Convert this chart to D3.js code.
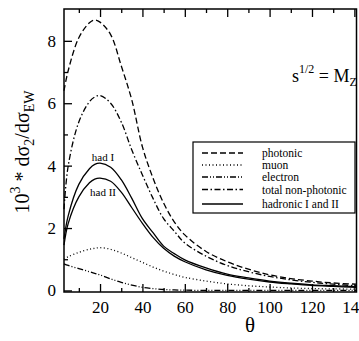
<!DOCTYPE html>
<html>
<head>
<meta charset="utf-8">
<script src="https://cdn.jsdelivr.net/npm/d3@7"></script>
<style>
  body { margin: 0; background: #fff; }
  svg text { font-family: "Liberation Serif", Tinos, "Times New Roman", serif; fill: #000; }
</style>
</head>
<body>
<svg width="359" height="341"></svg>
<script>
  // angle values (degrees)
  const theta = [3, 5, 10, 15, 17.5, 20, 25, 30, 35, 40, 45, 50, 55, 60, 70, 80, 90, 100, 110, 120, 130, 141];

  // 10^3 * dsigma2/dsigmaEW per channel
  const photonic    = [6.4, 7.05, 8.1, 8.58, 8.67, 8.6, 8.2, 7.2, 6.1, 4.6, 3.6, 2.8, 2.2, 1.78, 1.25, 0.92, 0.68, 0.5, 0.38, 0.3, 0.24, 0.2];
  const muon        = [1.0, 1.08, 1.22, 1.32, 1.35, 1.37, 1.32, 1.2, 1.05, 0.9, 0.75, 0.62, 0.51, 0.42, 0.3, 0.21, 0.15, 0.11, 0.08, 0.06, 0.05, 0.04];
  const electron    = [0.85, 0.8, 0.7, 0.6, 0.55, 0.5, 0.37, 0.26, 0.17, 0.1, 0.06, 0.03, 0.015, 0.01, 0, 0, 0, 0, 0, 0, 0, 0];
  const nonPhotonic = [2.6, 4.0, 5.4, 6.05, 6.2, 6.25, 6.0, 5.4, 4.5, 3.7, 2.95, 2.3, 1.9, 1.52, 1.1, 0.8, 0.6, 0.45, 0.34, 0.26, 0.2, 0.15];
  const hadI        = [1.65, 2.4, 3.4, 3.9, 4.04, 4.08, 3.95, 3.55, 2.95, 2.3, 1.85, 1.42, 1.18, 0.98, 0.72, 0.52, 0.4, 0.3, 0.23, 0.18, 0.15, 0.12];
  const hadII       = [1.45, 2.15, 3.0, 3.45, 3.57, 3.6, 3.5, 3.15, 2.65, 2.15, 1.7, 1.35, 1.1, 0.92, 0.66, 0.48, 0.36, 0.27, 0.21, 0.16, 0.13, 0.1];

  const xMajor = [20, 40, 60, 80, 100, 120, 140];
  const xMinor = [10, 30, 50, 70, 90, 110, 130];
  const yMajor = [0, 2, 4, 6, 8];
  const yMinor = [1, 3, 5, 7];

  const legendNames = ['photonic', 'muon', 'electron', 'total non-photonic', 'hadronic I and II'];
  const dashes = ['6,3', '1,2.5', '6,2,1,2,1,2', '6,2.5,1.5,2.5', null];

  const serif = '"Liberation Serif", Tinos, "Times New Roman", serif';
  const svg = d3.select('svg');
  const pLeft = 64, pRight = 356.5, pTop = 9, pBottom = 292;

  const x = d3.scaleLinear().domain([3, 141]).range([pLeft, pRight]);
  const y = d3.scaleLinear().domain([-0.05, 9.02]).range([pBottom, pTop]);

  const line = d3.line()
    .x((d, i) => x(theta[i]))
    .y(d => y(d))
    .curve(d3.curveCatmullRom.alpha(0.5));

  const g = svg.append('g');
  const series = [photonic, muon, electron, nonPhotonic, hadI, hadII];
  const seriesDash = [dashes[0], dashes[1], dashes[2], dashes[3], null, null];
  series.forEach((s, k) => {
    g.append('path')
      .attr('d', line(s))
      .attr('fill', 'none')
      .attr('stroke', '#000')
      .attr('stroke-width', 1.3)
      .attr('stroke-dasharray', seriesDash[k]);
  });

  // axes with inward ticks
  const axisStyle = sel => {
    sel.attr('font-family', null);
    sel.select('.domain').remove();
    sel.selectAll('line').attr('stroke', '#000').attr('stroke-width', 1.3);
    sel.selectAll('text').style('font-size', '17px').style('font-family', serif);
  };
  svg.append('g').attr('transform', `translate(0,${pBottom})`)
    .call(d3.axisBottom(x).tickValues(xMajor).tickSizeInner(-8).tickSizeOuter(0).tickPadding(9))
    .call(axisStyle);
  svg.append('g').attr('transform', `translate(0,${pBottom})`)
    .call(d3.axisBottom(x).tickValues(xMinor).tickSizeInner(-4).tickSizeOuter(0).tickFormat(''))
    .call(axisStyle);
  svg.append('g').attr('transform', `translate(0,${pTop})`)
    .call(d3.axisTop(x).tickValues(xMajor).tickSizeInner(-8).tickSizeOuter(0).tickFormat(''))
    .call(axisStyle);
  svg.append('g').attr('transform', `translate(0,${pTop})`)
    .call(d3.axisTop(x).tickValues(xMinor).tickSizeInner(-4).tickSizeOuter(0).tickFormat(''))
    .call(axisStyle);
  svg.append('g').attr('transform', `translate(${pLeft},0)`)
    .call(d3.axisLeft(y).tickValues(yMajor).tickSizeInner(-8).tickSizeOuter(0).tickPadding(8))
    .call(axisStyle);
  svg.append('g').attr('transform', `translate(${pLeft},0)`)
    .call(d3.axisLeft(y).tickValues(yMinor).tickSizeInner(-4).tickSizeOuter(0).tickFormat(''))
    .call(axisStyle);

  svg.append('rect')
    .attr('x', pLeft).attr('y', pTop)
    .attr('width', pRight - pLeft).attr('height', pBottom - pTop)
    .attr('fill', 'none').attr('stroke', '#000').attr('stroke-width', 1.5);

  // axis titles
  svg.append('text')
    .attr('x', 250).attr('y', 332)
    .attr('text-anchor', 'middle')
    .style('font-size', '21px')
    .text('θ');

  const yl = svg.append('text')
    .attr('transform', 'translate(29,152) rotate(-90)')
    .attr('text-anchor', 'middle')
    .style('font-size', '20px');
  yl.append('tspan').text('10');
  yl.append('tspan').attr('dy', -9).style('font-size', '14px').text('3');
  yl.append('tspan').attr('dy', 9).text(' * dσ');
  yl.append('tspan').attr('dy', 5).style('font-size', '14px').text('2');
  yl.append('tspan').attr('dy', -5).text('/dσ');
  yl.append('tspan').attr('dy', 5).style('font-size', '14px').text('EW');

  // energy note
  const note = svg.append('text').attr('x', 292).attr('y', 82).style('font-size', '18px');
  note.append('tspan').text('s');
  note.append('tspan').attr('dy', -9).style('font-size', '12px').text('1/2');
  note.append('tspan').attr('dy', 9).text(' = M');
  note.append('tspan').attr('dy', 4).style('font-size', '12px').text('Z');

  // curve labels
  svg.append('text').attr('x', 103).attr('y', 161).attr('text-anchor', 'middle')
    .style('font-size', '11px').text('had I');
  svg.append('text').attr('x', 103).attr('y', 196).attr('text-anchor', 'middle')
    .style('font-size', '11px').text('had II');

  // legend
  const lg = svg.append('g');
  lg.append('rect')
    .attr('x', 193).attr('y', 142).attr('width', 162).attr('height', 71)
    .attr('fill', '#fff').attr('stroke', '#000').attr('stroke-width', 1.2);
  const rowY = [153, 165, 177, 189.5, 204];
  legendNames.forEach((name, i) => {
    lg.append('line')
      .attr('x1', 202).attr('x2', 243)
      .attr('y1', rowY[i]).attr('y2', rowY[i])
      .attr('stroke', '#000').attr('stroke-width', 1.3)
      .attr('stroke-dasharray', dashes[i]);
    lg.append('text')
      .attr('x', 262).attr('y', rowY[i] + 4)
      .style('font-size', '11.5px')
      .text(name);
  });
</script>
</body>
</html>
